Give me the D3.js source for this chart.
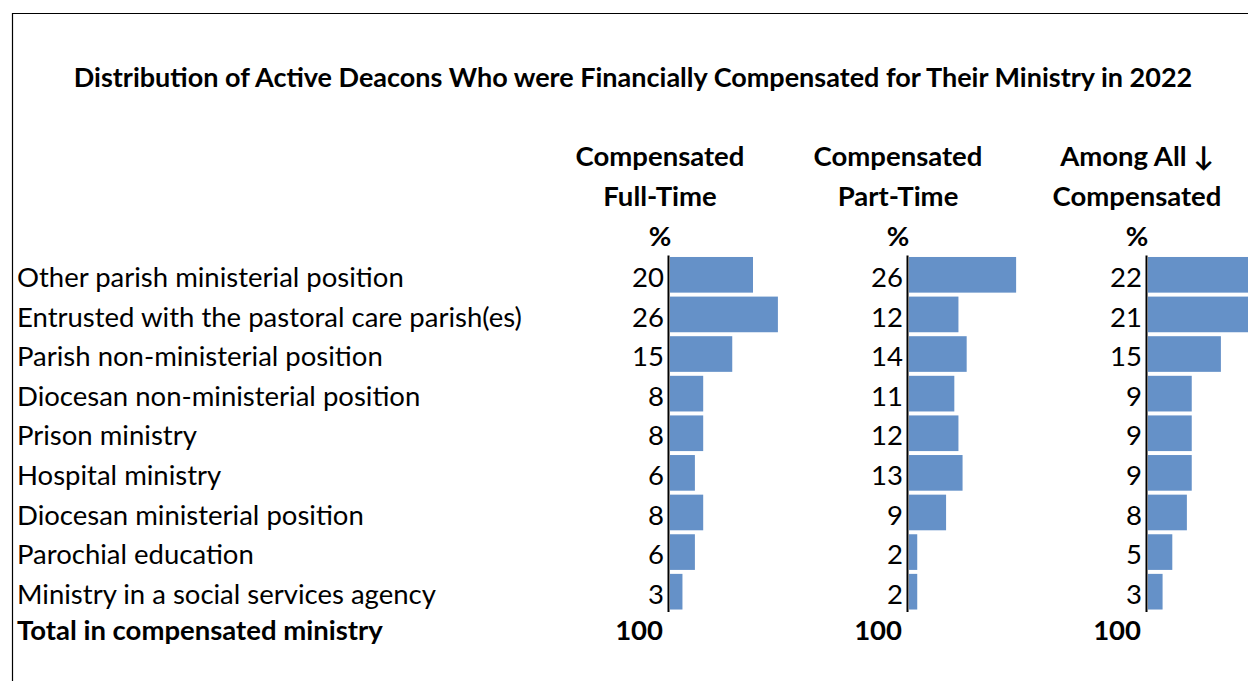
<!DOCTYPE html>
<html>
<head>
<meta charset="utf-8">
<script src="https://cdn.jsdelivr.net/npm/d3@7"></script>
<style>
  body { margin: 0; background: #fff; }
  text { font-family: Lato, "Open Sans", sans-serif; fill: #000; }
</style>
</head>
<body>
<div id="chart"></div>
<script>
var titleText = "Distribution of Active Deacons Who were Financially Compensated for Their Ministry in 2022";
var categories = [
  "Other parish ministerial position",
  "Entrusted with the pastoral care parish(es)",
  "Parish non-ministerial position",
  "Diocesan non-ministerial position",
  "Prison ministry",
  "Hospital ministry",
  "Diocesan ministerial position",
  "Parochial education",
  "Ministry in a social services agency"
];
var fullTime = [20, 26, 15, 8, 8, 6, 8, 6, 3];
var partTime = [26, 12, 14, 11, 12, 13, 9, 2, 2];
var allCompensated = [22, 21, 15, 9, 9, 9, 8, 5, 3];
var totalLabel = "Total in compensated ministry";
var totals = [100, 100, 100];
var headers = [["Compensated", "Full-Time"], ["Compensated", "Part-Time"], ["Among All \u2193", "Compensated"]];

var width = 1248, height = 681;
var fontSize = "27.5px";

var svg = d3.select("#chart").append("svg")
    .attr("width", width)
    .attr("height", height);

// frame
svg.append("path")
    .attr("d", "M12.5," + height + " L12.5,13.5 L" + width + ",13.5")
    .attr("fill", "none")
    .attr("stroke", "#000")
    .attr("stroke-width", 1.2);

svg.append("text")
    .attr("x", 633)
    .attr("y", 87)
    .attr("text-anchor", "middle")
    .style("font-size", "27px")
    .style("font-weight", "bold")
    .text(titleText);

var yScale = d3.scaleBand()
    .domain(categories)
    .range([255, 611.5])
    .paddingInner(0.1)
    .paddingOuter(0.05);

// row labels
svg.selectAll(".cat")
    .data(categories)
    .enter().append("text")
    .attr("class", "cat")
    .attr("x", 17)
    .attr("y", function(d) { return yScale(d) + yScale.bandwidth() / 2; })
    .attr("dy", "0.44em")
    .style("font-size", fontSize)
    .text(function(d) { return d; });

var totalY = 630;
svg.append("text")
    .attr("x", 17)
    .attr("y", totalY)
    .attr("dy", "0.36em")
    .style("font-size", fontSize)
    .style("font-weight", "bold")
    .text(totalLabel);

var columns = [
  {values: fullTime, axisX: 668, headX: 660, scale: d3.scaleLinear().domain([0, 100]).range([0, 415])},
  {values: partTime, axisX: 907, headX: 898, scale: d3.scaleLinear().domain([0, 100]).range([0, 412])},
  {values: allCompensated, axisX: 1146, headX: 1137, scale: d3.scaleLinear().domain([0, 100]).range([0, 486])}
];

columns.forEach(function(col, ci) {
    var g = svg.append("g")
        .attr("transform", "translate(" + col.axisX + ",0)");

    g.selectAll(".bar")
        .data(col.values)
        .enter().append("rect")
        .attr("class", "bar")
        .attr("x", 2)
        .attr("y", function(d, i) { return yScale(categories[i]); })
        .attr("width", function(d) { return col.scale(d); })
        .attr("height", yScale.bandwidth())
        .attr("fill", "#6591c8");

    var yAxis = d3.axisLeft(yScale)
        .tickSize(0)
        .tickSizeOuter(0)
        .tickPadding(4)
        .tickFormat(function(d, i) { return col.values[i]; });

    var ax = g.append("g").call(yAxis);
    ax.select(".domain").attr("stroke", "#000").attr("stroke-width", 2);
    ax.selectAll("text")
        .attr("dy", "0.44em")
        .style("font-size", fontSize)
        .style("font-family", "Lato, 'Open Sans', sans-serif")
        .attr("fill", "#000");

    g.append("text")
        .attr("x", -5)
        .attr("y", totalY)
        .attr("dy", "0.36em")
        .attr("text-anchor", "end")
        .style("font-size", fontSize)
        .style("font-weight", "bold")
        .text(totals[ci]);

    headers[ci].forEach(function(h, hi) {
        svg.append("text")
            .attr("x", col.headX)
            .attr("y", 166 + hi * 39.5)
            .attr("text-anchor", "middle")
            .style("font-size", fontSize)
            .style("font-weight", "bold")
            .text(h);
    });
    svg.append("text")
        .attr("x", col.headX)
        .attr("y", 246)
        .attr("text-anchor", "middle")
        .style("font-size", fontSize)
        .style("font-weight", "bold")
        .text("%");
});
</script>
</body>
</html>
